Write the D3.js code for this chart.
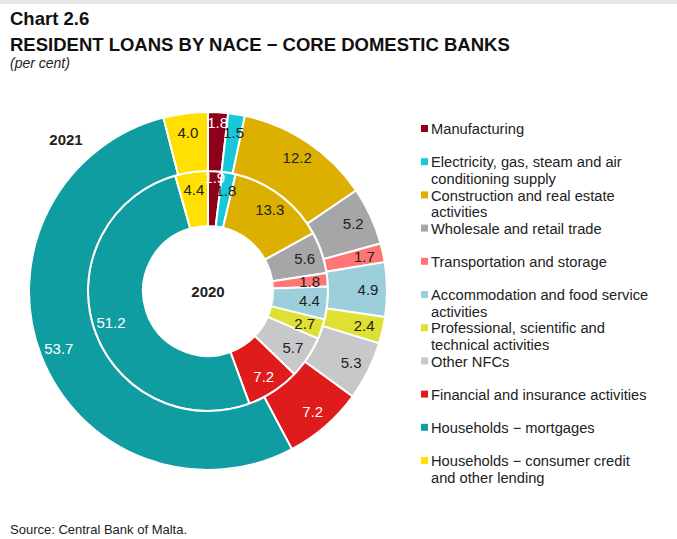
<!DOCTYPE html>
<html>
<head>
<meta charset="utf-8">
<script src="https://cdn.jsdelivr.net/npm/d3@7"></script>
<style>
    body { margin: 0; background: #fff; }
    svg { font-family: "Liberation Sans", Arial, sans-serif; }
</style>
</head>
<body>
<div class="chart"></div>
<script>
// categories (legend order = slice order, clockwise from 12 o'clock)
var categories = [
    "Manufacturing",
    "Electricity, gas, steam and air conditioning supply",
    "Construction and real estate activities",
    "Wholesale and retail trade",
    "Transportation and storage",
    "Accommodation and food service activities",
    "Professional, scientific and technical activities",
    "Other NFCs",
    "Financial and insurance activities",
    "Households \u2212 mortgages",
    "Households \u2212 consumer credit and other lending"
];
var colors = ["#8c0019", "#19c8d8", "#dbb000", "#a6a6a8", "#ff7674",
    "#9ccfdb", "#dfe034", "#c8c8ca", "#e01b1c", "#109da2", "#ffe000"];
// label text colour per category (white on dark slices)
var labelColors = ["#fff", "#222", "#222", "#222", "#222",
    "#222", "#222", "#222", "#fff", "#fff", "#222"];

var years = ["2020", "2021"];
var values2020 = [1.9, 1.8, 13.3, 5.6, 1.8, 4.4, 2.7, 5.7, 7.2, 51.2, 4.4];
var values2021 = [1.8, 1.5, 12.2, 5.2, 1.7, 4.9, 2.4, 5.3, 7.2, 53.7, 4.0];

var width = 677, height = 539;
var cx = 208, cy = 291;

var svg = d3.select(".chart")
    .append("svg")
    .attr("width", width)
    .attr("height", height);

// thin grey band at the very top
svg.append("rect")
    .attr("x", 0).attr("y", 0)
    .attr("width", width).attr("height", 4)
    .style("fill", "#e6e6e6");

// titles
svg.append("text").attr("x", 10).attr("y", 25)
    .style("font-size", "18.5px").style("font-weight", "bold").style("fill", "#111")
    .text("Chart 2.6");
svg.append("text").attr("x", 10).attr("y", 51)
    .style("font-size", "18.5px").style("font-weight", "bold").style("fill", "#111")
    .text("RESIDENT LOANS BY NACE \u2212 CORE DOMESTIC BANKS");
svg.append("text").attr("x", 10).attr("y", 68)
    .style("font-size", "14px").style("font-style", "italic").style("fill", "#222")
    .text("(per cent)");

svg.append("text").attr("x", 10).attr("y", 534)
    .style("font-size", "13px").style("fill", "#222")
    .text("Source: Central Bank of Malta.");

var pie = d3.pie().sort(null).value(function (d) { return d; });

var rings = [
    {year: years[0], values: values2020, inner: 65, outer: 120, labelR: 102, nudge: 11},
    {year: years[1], values: values2021, inner: 120, outer: 179, labelR: 160, nudge: 9}
];

var g = svg.append("g").attr("transform", "translate(" + cx + "," + cy + ")");

rings.forEach(function (ring) {
    var arc = d3.arc().innerRadius(ring.inner).outerRadius(ring.outer);
    var arcs = pie(ring.values);

    g.append("g").selectAll("path")
        .data(arcs)
        .enter()
        .append("path")
        .attr("d", arc)
        .style("fill", function (d, i) { return colors[i]; })
        .style("stroke", "#fff")
        .style("stroke-width", 2);

    // narrow slice followed by another narrow slice: push its label outward
    function labelRadius(d, i) {
        var next = ring.values[i + 1];
        return (d.data < 2 && next !== undefined && next < 2) ? ring.labelR + ring.nudge : ring.labelR;
    }

    g.append("g").selectAll("text")
        .data(arcs)
        .enter()
        .append("text")
        .attr("transform", function (d, i) {
            var r = labelRadius(d, i);
            var c = d3.arc().innerRadius(r).outerRadius(r).centroid(d);
            return "translate(" + c + ")";
        })
        .attr("text-anchor", "middle")
        .attr("dy", "0.35em")
        .style("font-size", "15px")
        .style("fill", function (d, i) { return labelColors[i]; })
        .text(function (d) { return d3.format(".1f")(d.data); });
});

// year labels
svg.append("text").attr("x", cx).attr("y", cy + 6)
    .attr("text-anchor", "middle")
    .style("font-size", "15px").style("font-weight", "bold").style("fill", "#222")
    .text(years[0]);
svg.append("text").attr("x", 66).attr("y", 145)
    .attr("text-anchor", "middle")
    .style("font-size", "15px").style("font-weight", "bold").style("fill", "#222")
    .text(years[1]);

// legend
var legendX = 421, legendY = 129, legendStep = 33.2, lineH = 16.6;
var legend = svg.append("g");
var items = legend.selectAll("g")
    .data(categories)
    .enter()
    .append("g")
    .attr("transform", function (d, i) {
        return "translate(" + legendX + "," + (legendY + i * legendStep) + ")";
    });

items.append("rect")
    .attr("x", 0).attr("y", -4)
    .attr("width", 7).attr("height", 7)
    .style("fill", function (d, i) { return colors[i]; });

items.append("text")
    .style("font-size", "14.7px")
    .style("fill", "#222")
    .each(function (d) {
        var el = d3.select(this);
        var words = d.split(" ");
        var line = [];
        var lineNo = 0;
        var tspan = el.append("tspan").attr("x", 10).attr("y", 0).attr("dy", "0.35em");
        words.forEach(function (w) {
            line.push(w);
            tspan.text(line.join(" "));
            if (tspan.node().getComputedTextLength() > 222 && line.length > 1) {
                line.pop();
                tspan.text(line.join(" "));
                line = [w];
                lineNo++;
                tspan = el.append("tspan").attr("x", 10).attr("y", lineNo * lineH)
                    .attr("dy", "0.35em").text(w);
            }
        });
    });
</script>
</body>
</html>
